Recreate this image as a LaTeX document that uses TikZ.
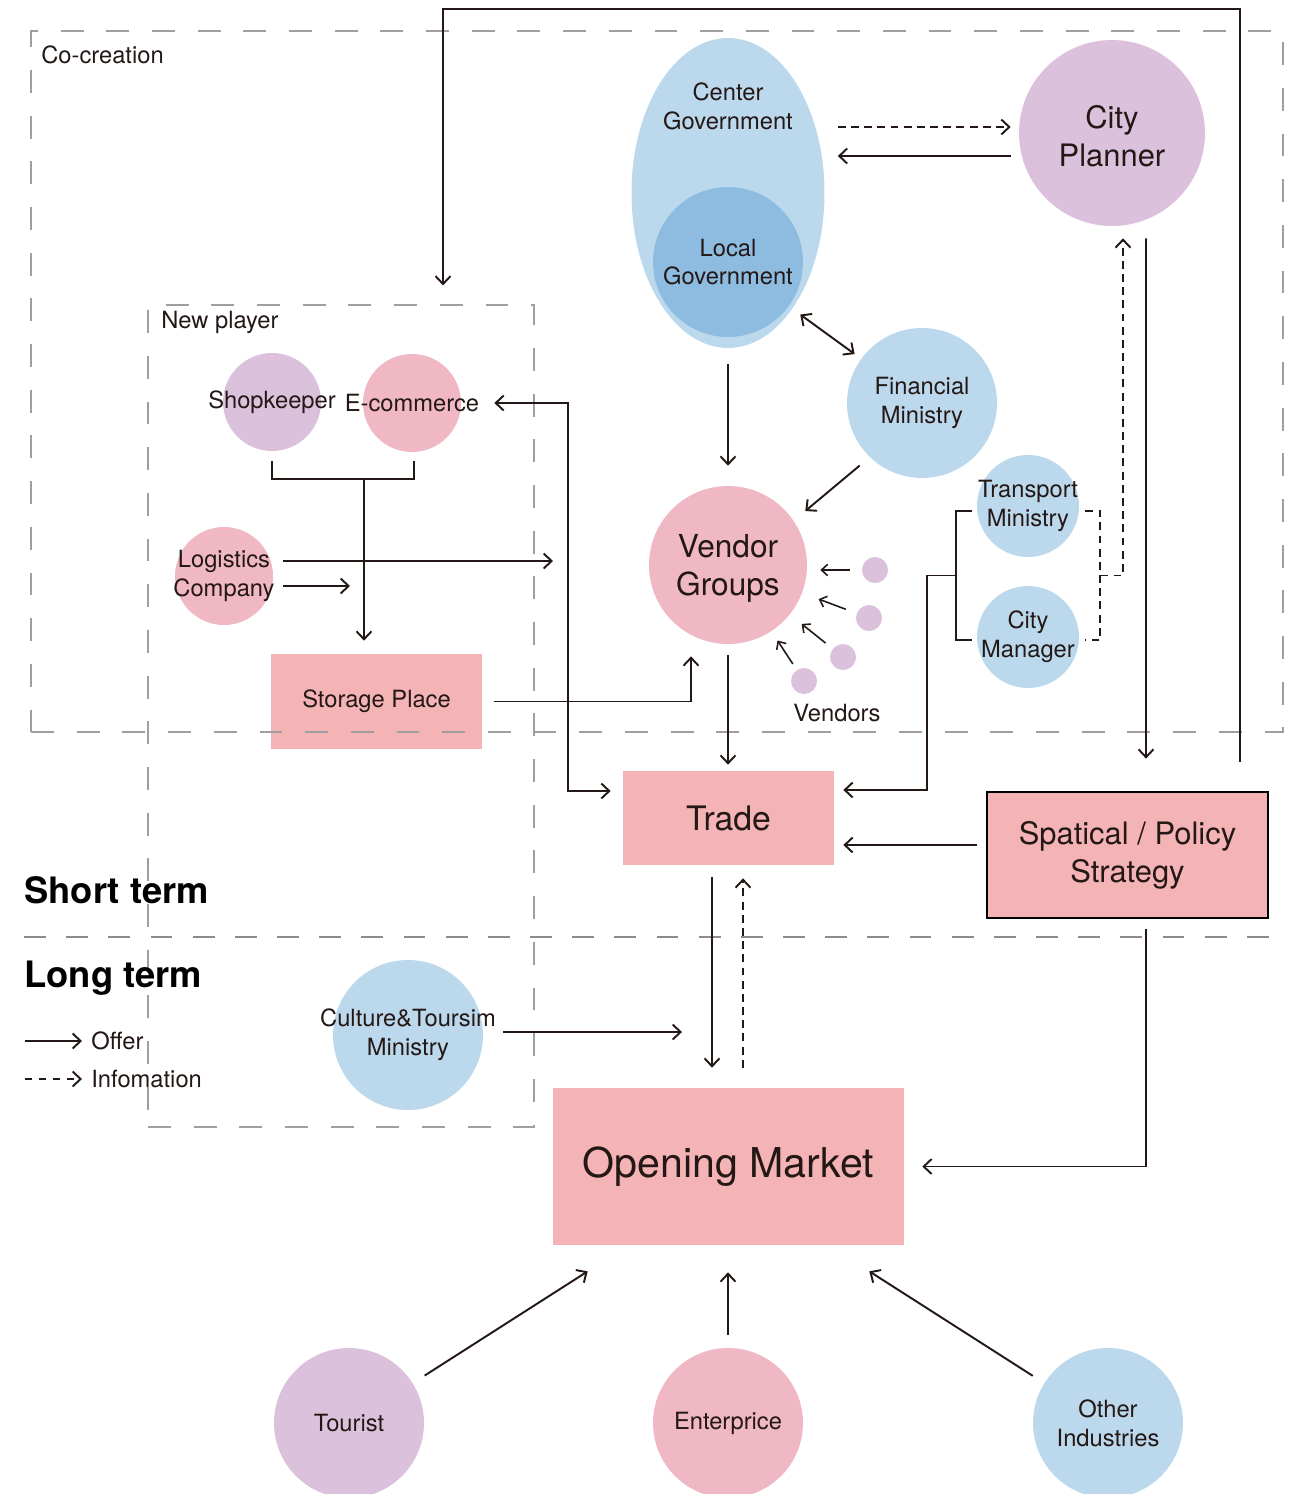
\documentclass[tikz,border=0pt]{standalone}
\usepackage{fontspec}
\setmainfont{TeX Gyre Heros}
\usetikzlibrary{arrows.meta,shapes.geometric,calc}

\definecolor{ink}{HTML}{231815}
\definecolor{lblue}{HTML}{BCD8EC}
\definecolor{dblue}{HTML}{8EBCE1}
\definecolor{lilac}{HTML}{DCC1DD}
\definecolor{pinkc}{HTML}{F0B7C5}
\definecolor{pinkr}{HTML}{F4B3B5}
\definecolor{boxgray}{HTML}{A09E9E}
\definecolor{divgray}{HTML}{8F8B8B}

\begin{document}
\begin{tikzpicture}[x=0.02cm, y=-0.02cm,
  line/.style={draw=ink, line width=1.1pt},
  offer/.style={line, -{Straight Barb[length=4.5pt,width=8.5pt]}},
  info/.style={offer, dash pattern=on 4.5pt off 3pt},
  infoline/.style={line, dash pattern=on 4.5pt off 3pt},
  twoway/.style={line, {Straight Barb[length=4.5pt,width=8.5pt]}-{Straight Barb[length=4.5pt,width=8.5pt]}},
  tiny/.style={draw=ink, line width=0.9pt, -{Straight Barb[length=3.5pt,width=6.5pt]}},
  bub/.style={circle, inner sep=0pt, minimum size=#1},
  txt/.style={text=ink, align=center, font=\fontsize{13.5}{16.4}\selectfont},
  big/.style={text=ink, align=center, font=\fontsize{17.6}{21.5}\selectfont},
  blk/.style={rectangle, inner sep=0pt, fill=pinkr, text=ink, align=center},
  dbox/.style={rectangle, inner sep=0pt, draw=boxgray, line width=0.75pt, dash pattern=on 13pt off 13pt},
  term/.style={text=black, font=\fontsize{20.7}{24}\selectfont\bfseries, anchor=west, inner sep=0pt},
  tag/.style={txt, anchor=west, inner sep=0pt},
]
\useasboundingbox (0,0) rectangle (1299,1494);

% ---- governments and planner
\node[ellipse, inner sep=0pt, minimum width=3.86cm, minimum height=6.2cm, fill=lblue] (cg) at (728,193) {};
\node[txt] (cgt) at (728,106.5) {Center\\Government};
\node[bub=3cm, fill=dblue, label={[txt]center:Local\\Government}] (lg) at (728,262) {};
\node[bub=3.72cm, fill=lilac, label={[big, yshift=-2pt]center:City\\Planner}] (cp) at (1112,133) {};
\node[bub=3cm, fill=lblue, label={[txt]center:Financial\\Ministry}] (fm) at (922,403) {};

% ---- vendors
\node[bub=3.16cm, fill=pinkc, label={[text=ink, align=center, yshift=-2pt, font=\fontsize{18}{21.5}\selectfont]center:Vendor\\Groups}] (vg) at (728,565) {};
\node[bub=0.52cm, fill=lilac] (v1) at (875,570) {};
\node[bub=0.52cm, fill=lilac] (v2) at (869,618) {};
\node[bub=0.52cm, fill=lilac] (v3) at (843,657) {};
\node[bub=0.52cm, fill=lilac] (v4) at (804,681) {};
\node[txt] (vn) at (837,713) {Vendors};

% ---- ministries on the right
\node[bub=2.04cm, fill=lblue, label={[txt]center:Transport\\Ministry}] (tm) at (1028,506) {};
\node[bub=2.04cm, fill=lblue, label={[txt]center:City\\Manager}] (cm) at (1028,637) {};

% ---- new players
\node[bub=1.96cm, fill=lilac, label={[txt]center:Shopkeeper}] (sh) at (272,402) {};
\node[bub=1.96cm, fill=pinkc, label={[txt]center:E-commerce}] (ec) at (412,403) {};
\node[bub=1.96cm, fill=pinkc, label={[txt]center:Logistics\\Company}] (lc) at (224,576) {};
\node[blk, minimum width=4.22cm, minimum height=1.9cm, font=\fontsize{13.5}{16}\selectfont] (st) at (376.5,701.5) {Storage Place};

% ---- trade and strategy
\node[blk, minimum width=4.22cm, minimum height=1.88cm, font=\fontsize{19.2}{22}\selectfont] (tr) at (728.5,818) {Trade};
\node[blk, draw=black, line width=1.6pt, minimum width=5.62cm, minimum height=2.52cm, font=\fontsize{17.6}{21.5}\selectfont] (sp) at (1127.5,855) {Spatical / Policy\\Strategy};

% ---- long term
\node[bub=3cm, fill=lblue, label={[txt]center:Culture\&Toursim\\Ministry}] (ct) at (408,1035) {};
\node[blk, minimum width=7.02cm, minimum height=3.14cm, font=\fontsize{23.4}{26}\selectfont] (om) at (728.5,1166.5) {\raisebox{-3pt}{Opening Market}};
\node[bub=3cm, fill=lilac, label={[txt]center:Tourist}] (to) at (349,1423) {};
\node[bub=3cm, fill=pinkc, label={[txt]center:Enterprice}] (en) at (728,1423) {};
\node[bub=3cm, fill=lblue, label={[txt]center:Other\\Industries}] (oi) at (1108,1423) {};

% ---- dashed regions
\node[dbox, minimum width=25.04cm, minimum height=14.02cm] (cc) at (657,381.5) {};
\node[dbox, minimum width=7.72cm, minimum height=16.44cm] (np) at (341,716) {};
\node[tag] (cct) at (41,55) {Co-creation};
\node[tag] (npt) at (161,322) {New player};
\coordinate (dvA) at (24,937);
\coordinate (dvB) at (1270,937);
\draw[draw=divgray, line width=1.6pt, dash pattern=on 12.5pt off 11.5pt] (dvA) -- (dvB);
\node[term] (sterm) at (24,890) {Short term};
\node[term] (lterm) at (24,978) {Long term};

% ---- legend
\coordinate (lgA) at (25,1041);
\coordinate (lgB) at (82,1041);
\coordinate (liA) at (25,1079);
\coordinate (liB) at (82,1079);
\draw[offer] (lgA) -- (lgB);
\draw[offer, dash pattern=on 4pt off 4pt] (liA) -- (liB);
\node[tag] (lgt) at (91,1041) {Offer};
\node[tag] (lit) at (91,1079) {Infomation};

% ---- connectors
% strategy feeds back to the new players
\draw[offer, shorten >=0.38cm] ($(sp.north)+(112.5,-29)$) |- ($(np.north)+(102,-295)$) -- ($(np.north)+(102,0)$);
% government and planner
\draw[info, shorten <=0.26cm, shorten >=0.16cm] ($(cg.east)+(0,-66)$) -- ($(cp.west)+(0,-6)$);
\draw[offer, shorten <=0.16cm, shorten >=0.26cm] ($(cp.west)+(0,23)$) -- ($(cg.east)+(0,-37)$);
\draw[twoway, shorten <=0.28cm, shorten >=0.16cm] (lg) -- (fm);
\draw[offer, shorten <=0.32cm, shorten >=0.4cm] (cg.south) -- (vg.north);
\draw[offer, shorten <=0.26cm, shorten >=0.3cm] (fm.226) -- (vg.34.5);
% vendors join the groups
\draw[tiny, shorten <=0.24cm, shorten >=0.26cm] (v1.west) -- (v1.west -| vg.east);
\draw[tiny, shorten <=0.23cm, shorten >=0.35cm] (v2) -- (vg);
\draw[tiny, shorten <=0.18cm, shorten >=0.3cm] (v3) -- (vg);
\draw[tiny, shorten <=0.14cm, shorten >=0.22cm] (v4) -- (vg);
% ministries
\draw[line] ($(tm.west)+(-5,5)$) -- ++(-16,0) |- ($(cm.west)+(-5,3)$);
\coordinate (bl) at ($(tm.west)!0.5!(cm.west)+(-21,4)$);
\draw[offer, shorten >=0.18cm] (bl) -- ++(-29,0) |- ($(tr.east)+(0,-28)$);
\draw[infoline] ($(tm.east)+(6,5)$) -| ($(cm.east)+(21,3)$) -- ++(-15,0);
\coordinate (br) at ($(tm.east)!0.5!(cm.east)+(21,4)$);
\draw[info, shorten >=0.24cm] (br) -| ($(cp.south)+(11,0)$);
% planner to strategy, strategy to trade
\draw[offer, shorten >=0.64cm] ($(cp.south)+(34,12)$) -- ($(sp.north)+(18.5,0)$);
\draw[offer, shorten <=0.18cm, shorten >=0.18cm] ($(sp.west)+(0,-10)$) -- ($(tr.east)+(0,27)$);
\draw[offer, shorten <=0.22cm, shorten >=0.12cm] (vg.south) -- (vg.south |- tr.north);
% storage and new players
\draw[offer] ($(st.east)+(12,0)$) -| ($(vg.south)+(-37,12)$);
\draw[line] ($(sh.south)+(0,10)$) |- ($(ec.south)+(2,27)$) -- ++(0,-18);
\coordinate (jn) at ($(sh.south)+(92,28)$);
\draw[offer, shorten >=0.26cm] (jn) -- (jn |- st.north);
\coordinate (lcA) at (553,561);
\coordinate (lcB) at (350,586);
\draw[offer, shorten <=0.2cm] ($(lc.east)+(0,-15)$) -- (lcA);
\draw[offer, shorten <=0.2cm] ($(lc.east)+(0,10)$) -- (lcB);
\draw[twoway, shorten <=0.66cm, shorten >=0.24cm] (ec.east) -- ++(107,0) |- ($(tr.west)+(0,-27)$);
% trade and the opening market
\draw[offer, shorten <=0.24cm, shorten >=0.4cm] ($(tr.south)+(-16.5,0)$) -- ($(om.north)+(-16.5,0)$);
\draw[info, shorten <=0.4cm, shorten >=0.26cm] ($(om.north)+(14.5,0)$) -- ($(tr.south)+(14.5,0)$);
\coordinate (ctA) at (682,1032);
\draw[offer, shorten <=0.4cm] ($(ct.east)+(0,-3)$) -- (ctA);
\draw[offer, shorten <=0.2cm, shorten >=0.36cm] ($(sp.south)+(18.5,0)$) |- (om.east);
\draw[offer, shorten <=0.28cm] (to.32) -- ($(om.south west)+(35,26)$);
\draw[offer, shorten <=0.26cm, shorten >=0.54cm] (en.north) -- (en.north |- om.south);
\draw[offer, shorten <=0.27cm] (oi.148) -- ($(om.south east)+(-35,26)$);
\end{tikzpicture}
\end{document}
